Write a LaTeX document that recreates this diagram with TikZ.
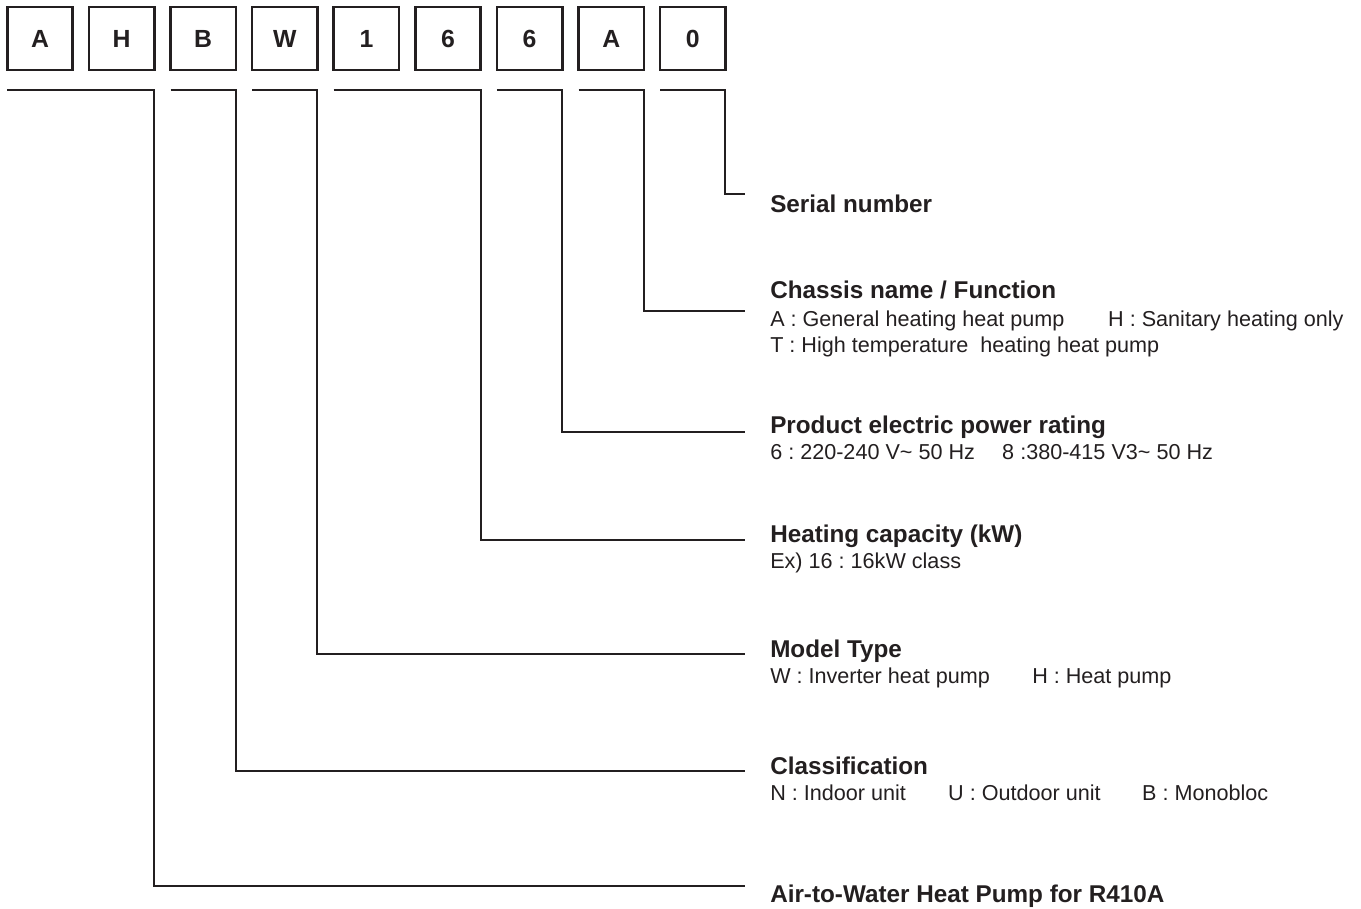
\documentclass[tikz,border=0pt]{standalone}
\usepackage{fontspec}
\setmainfont{Liberation Sans}
\usepackage{tikz}
\usetikzlibrary{calc}
\usetikzlibrary{positioning}
\definecolor{ink}{RGB}{35,31,32}
\frenchspacing

\tikzset{
	digit/.style={draw=ink, line width=2pt, outer sep=0pt, inner sep=0pt,
		minimum width=49pt, minimum height=47.25pt,
		font=\bfseries\fontsize{18.6}{22}\selectfont, text=ink},
	bracket/.style={draw=ink, line width=1.5pt},
	title/.style={anchor=base west, inner sep=0pt,
		font=\bfseries\fontsize{18.2}{22}\selectfont, text=ink},
	sub/.style={anchor=base west, inner sep=0pt,
		font=\fontsize{16.2}{19.5}\selectfont, text=ink},
}

\begin{document}
\begin{tikzpicture}[x=0.75pt, y=-0.75pt]
	\useasboundingbox (0,0) rectangle (1361,908);

	%code boxes
	\node[digit] (bAir1) at (40,38.5) {A};
	\node[digit, right=12.2pt of bAir1] (bAir2) {H};
	\node[digit, right=12.2pt of bAir2] (bClass) {B};
	\node[digit, right=12.2pt of bClass] (bModel) {W};
	\node[digit, right=12.2pt of bModel] (bCap1) {1};
	\node[digit, right=12.2pt of bCap1] (bCap2) {6};
	\node[digit, right=12.2pt of bCap2] (bPower) {6};
	\node[digit, right=12.2pt of bPower] (bChassis) {A};
	\node[digit, right=12.2pt of bChassis] (bSerial) {0};

	%descriptions
	\node[title] (tSerial) at (770,212) {Serial number};

	\node[title] (tChassis) at (770,298) {Chassis name / Function};
	\node[sub] (dChassis1) at ([yshift=-21pt]tChassis.base west)
		{\makebox[253.5pt][l]{A : General heating heat pump}H : Sanitary heating only};
	\node[sub] (dChassis2) at ([yshift=-19.5pt]dChassis1.base west)
		{T : High temperature\ \ heating heat pump};

	\node[title] (tPower) at (770,433) {Product electric power rating};
	\node[sub] (dPower) at ([yshift=-19.5pt]tPower.base west)
		{\makebox[174pt][l]{6 : 220-240 V\textasciitilde{} 50 Hz}8 :380-415 V3\textasciitilde{} 50 Hz};

	\node[title] (tCap) at (770,542) {Heating capacity (kW)};
	\node[sub] (dCap) at ([yshift=-19.5pt]tCap.base west) {Ex) 16 : 16kW class};

	\node[title] (tModel) at (770,657) {Model Type};
	\node[sub] (dModel) at ([yshift=-19.5pt]tModel.base west)
		{\makebox[196.5pt][l]{W : Inverter heat pump}H : Heat pump};

	\node[title] (tClass) at (770,774) {Classification};
	\node[sub] (dClass) at ([yshift=-20pt]tClass.base west)
		{\makebox[133.5pt][l]{N : Indoor unit}\makebox[145.5pt][l]{U : Outdoor unit}B : Monobloc};

	\node[title] (tAir) at (770,902) {Air-to-Water Heat Pump for R410A};

	%bracket ends
	\coordinate (eSerial) at (745,194);
	\coordinate (eChassis) at (745,311);
	\coordinate (ePower) at (745,432);
	\coordinate (eCap) at (745,540);
	\coordinate (eModel) at (745,654);
	\coordinate (eClass) at (745,771);
	\coordinate (eAir) at (745,886);

	%brackets
	\draw[bracket] ($(bSerial.south west)+(0,20)$) -- ($(bSerial.south east)+(0,20)$) |- (eSerial);
	\draw[bracket] ($(bChassis.south west)+(0,20)$) -- ($(bChassis.south east)+(0,20)$) |- (eChassis);
	\draw[bracket] ($(bPower.south west)+(0,20)$) -- ($(bPower.south east)+(0,20)$) |- (ePower);
	\draw[bracket] ($(bCap1.south west)+(0,20)$) -- ($(bCap2.south east)+(0,20)$) |- (eCap);
	\draw[bracket] ($(bModel.south west)+(0,20)$) -- ($(bModel.south east)+(0,20)$) |- (eModel);
	\draw[bracket] ($(bClass.south west)+(0,20)$) -- ($(bClass.south east)+(0,20)$) |- (eClass);
	\draw[bracket] ($(bAir1.south west)+(0,20)$) -- ($(bAir2.south east)+(0,20)$) |- (eAir);

\end{tikzpicture}
\end{document}
